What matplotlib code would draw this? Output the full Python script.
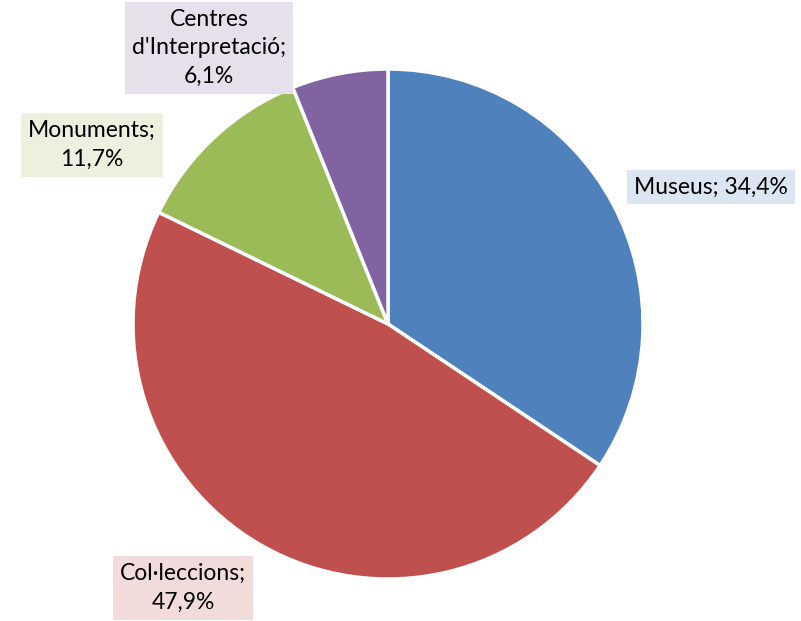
import matplotlib
matplotlib.use("Agg")
import matplotlib.pyplot as plt

categories = ["Museus", "Col·leccions", "Monuments", "Centres\nd'Interpretació"]
values = [34.4, 47.9, 11.7, 6.1]
colors = ["#4F81BD", "#C0504D", "#9BBB59", "#8064A2"]
box_colors = ["#DCE6F2", "#F2DCDB", "#EBF1DE", "#E6E0EC"]
label_texts = ["Museus; 34,4%", "Col·leccions;\n47,9%", "Monuments;\n11,7%", "Centres\nd'Interpretació;\n6,1%"]

W, H = 801, 621
fig = plt.figure(figsize=(W / 100, H / 100), dpi=100)
ax = fig.add_axes([0, 0, 1, 1])
ax.set_xlim(0, W)
ax.set_ylim(0, H)
ax.set_aspect("equal")
ax.axis("off")

cx, cy, r = 388, H - 324, 255
ax.pie(values, colors=colors, startangle=90, counterclock=False,
       center=(cx, cy), radius=r,
       wedgeprops=dict(edgecolor="white", linewidth=2.5))
ax.set_xlim(0, W)
ax.set_ylim(0, H)

# label centers (pixel coords from top)
label_pos = [(711, 187), (183, 588), (92, 145), (209, 48)]
for txt, (px, py), bc in zip(label_texts, label_pos, box_colors):
    ax.text(px, H - py, txt, ha="center", va="center", fontsize=16.5,
            family="Lato", color="#000000", linespacing=1.45,
            bbox=dict(boxstyle="square,pad=0.3", facecolor=bc, edgecolor="none"))

fig.savefig("out.png", dpi=100)
